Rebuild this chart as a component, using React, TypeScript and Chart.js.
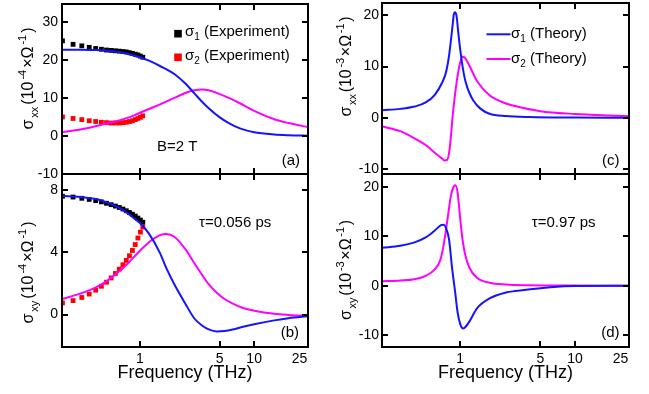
import React, { useEffect, useRef } from "react";
import { Chart, registerables } from "chart.js";

Chart.register(...registerables);

const FONT = '"Liberation Sans", Arial, Helvetica, sans-serif';
const BLUE = "#1414ff";
const MAGENTA = "#ff00ff";
const RED = "#ff0000";
const BLACK = "#000000";

// ---------- shared axis data ----------
const X_MIN = 0.208;
const X_MAX = 29.6;
const xTickLabels = [1, 5, 10, 25];
const xTickMarks = [1, 5, 10];

// ---------- experiment (panels a, b) ----------
const expFreq = [0.21, 0.26, 0.31, 0.36, 0.41, 0.46, 0.51, 0.56, 0.61, 0.66, 0.71, 0.76, 0.81, 0.86, 0.91, 0.96, 1.01, 1.06];
const aExpSigma1 = [25.0, 24.1, 23.7, 23.3, 23.0, 22.8, 22.6, 22.5, 22.4, 22.3, 22.2, 22.1, 21.9, 21.7, 21.5, 21.3, 21.0, 20.7];
const aExpSigma2 = [5.0, 4.6, 4.3, 4.0, 3.8, 3.6, 3.5, 3.4, 3.4, 3.4, 3.5, 3.6, 3.8, 4.0, 4.3, 4.6, 4.9, 5.3];
const bExpSigma1 = [7.6, 7.55, 7.47, 7.4, 7.32, 7.24, 7.15, 7.06, 6.97, 6.88, 6.78, 6.67, 6.56, 6.45, 6.33, 6.2, 6.07, 5.93];
const bExpSigma2 = [0.75, 0.9, 1.1, 1.32, 1.57, 1.82, 2.08, 2.36, 2.64, 2.92, 3.2, 3.48, 3.78, 4.12, 4.5, 4.92, 5.3, 5.62];

// ---------- Drude fit (panel a) ----------
const aThFreq = [0.21, 0.3, 0.4, 0.5, 0.6, 0.7, 0.8, 0.9, 1.0, 1.2, 1.5, 2.0, 2.5, 3.0, 3.5, 4.0, 5.0, 6.0, 7.5, 10, 15, 20, 30];
const aThSigma1 = [22.7, 22.7, 22.6, 22.45, 22.2, 21.9, 21.5, 21.1, 20.7, 19.8, 18.4, 16.3, 13.8, 11.2, 9.0, 7.3, 4.9, 3.4, 2.0, 1.0, 0.4, 0.2, 0.05];
const aThSigma2 = [1.0, 1.7, 2.5, 3.2, 3.8, 4.3, 4.9, 5.5, 6.1, 7.1, 8.3, 10.0, 11.3, 12.0, 12.2, 12.0, 11.0, 10.0, 8.6, 6.6, 4.4, 3.4, 2.3];

// ---------- Drude fit (panel b) ----------
const bThFreq = [0.21, 0.3, 0.4, 0.5, 0.6, 0.7, 0.8, 0.9, 1.0, 1.2, 1.5, 1.7, 2.0, 2.5, 3.0, 3.5, 4.0, 4.7, 5.5, 6.5, 8, 10, 15, 20, 30];
const bThSigma1 = [7.62, 7.56, 7.44, 7.24, 7.0, 6.74, 6.45, 6.15, 5.88, 5.2, 3.95, 3.0, 1.95, 0.7, -0.25, -0.7, -0.95, -1.08, -1.05, -0.95, -0.78, -0.62, -0.37, -0.23, -0.1];
const bThSigma2 = [1.0, 1.35, 1.7, 2.1, 2.55, 2.95, 3.35, 3.75, 4.1, 4.65, 5.1, 5.18, 5.0, 4.2, 3.3, 2.55, 1.95, 1.4, 1.0, 0.7, 0.42, 0.25, 0.05, -0.02, -0.08];

// ---------- theory (panel c) ----------
const cFreq1 = [0.21, 0.3, 0.4, 0.5, 0.6, 0.7, 0.75, 0.8, 0.85, 0.88, 0.9, 0.93, 0.96, 1.0, 1.05, 1.1, 1.15, 1.2, 1.3, 1.5, 1.8, 2.5, 4, 10, 30];
const cSigma1 = [1.5, 1.75, 2.2, 3.0, 4.5, 7.0, 8.8, 12.2, 17.2, 20.2, 20.6, 19.8, 16.8, 13.3, 9.9, 7.5, 6.0, 4.9, 3.4, 1.8, 0.8, 0.35, 0.15, 0.05, 0.02];
const cFreq2 = [0.21, 0.3, 0.4, 0.5, 0.6, 0.7, 0.73, 0.77, 0.8, 0.83, 0.86, 0.9, 0.95, 1.0, 1.05, 1.1, 1.2, 1.4, 1.8, 2.5, 3, 5, 10, 20, 30];
const cSigma2 = [-1.7, -2.6, -4.0, -5.3, -6.8, -8.0, -8.3, -8.2, -6.8, -3.5, 0.5, 4.5, 8.3, 10.8, 11.9, 11.7, 10.2, 7.2, 4.4, 2.8, 2.3, 1.3, 0.75, 0.45, 0.32];

// ---------- theory (panel d) ----------
const dFreq1 = [0.21, 0.3, 0.4, 0.5, 0.6, 0.68, 0.72, 0.75, 0.8, 0.85, 0.9, 0.95, 1.0, 1.06, 1.12, 1.2, 1.4, 1.8, 2.5, 3, 5, 7, 10, 30];
const dSigma1 = [7.7, 8.1, 8.8, 9.8, 11.2, 12.3, 12.4, 11.8, 9.3, 3.5, -1.0, -5.5, -7.8, -8.7, -8.3, -7.3, -4.6, -2.6, -1.4, -1.1, -0.5, -0.2, -0.08, 0];
const dFreq2 = [0.21, 0.3, 0.4, 0.5, 0.6, 0.67, 0.72, 0.78, 0.83, 0.88, 0.91, 0.95, 1.0, 1.05, 1.1, 1.2, 1.4, 1.8, 2.5, 4, 10, 30];
const dSigma2 = [0.9, 1.05, 1.3, 2.0, 3.3, 5.2, 8.5, 14.0, 18.3, 20.2, 20.4, 18.8, 13.6, 9.2, 6.5, 3.7, 1.6, 0.6, 0.25, 0.1, 0.03, 0];

// ---------- y ticks ----------
const aYTicks = [-10, 0, 10, 20, 30];
const bYTicks = [0, 4, 8];
const cYTicks = [-10, 0, 10, 20];
const dYTicks = [-10, 0, 10, 20];

type Run = { t: string; s?: "sub" | "sup" };

const pts = (xs: number[], ys: number[]) => xs.map((x, i) => ({ x, y: ys[i] }));

const lineDs = (xs: number[], ys: number[], color: string) => ({
  data: pts(xs, ys),
  showLine: true,
  borderColor: color,
  backgroundColor: color,
  borderWidth: 2,
  pointRadius: 0,
  cubicInterpolationMode: "monotone",
  fill: false,
});

const squareDs = (xs: number[], ys: number[], color: string) => ({
  data: pts(xs, ys),
  showLine: false,
  pointStyle: "rect",
  pointRadius: 3.4,
  pointBorderWidth: 0,
  pointBackgroundColor: color,
  pointBorderColor: color,
  backgroundColor: color,
  borderColor: color,
});

function drawRuns(ctx: CanvasRenderingContext2D, runs: Run[], x: number, y: number, main: number, small: number, subOff: number, supOff: number, gap = 0) {
  let cx = x;
  runs.forEach((r, i) => {
    const sz = r.s ? small : main;
    ctx.font = `${sz}px ${FONT}`;
    const dy = r.s === "sub" ? subOff : r.s === "sup" ? -supOff : 0;
    ctx.fillText(r.t, cx, y + dy);
    cx += ctx.measureText(r.t).width + (i < runs.length - 1 ? gap : 0);
  });
}

function runsWidth(ctx: CanvasRenderingContext2D, runs: Run[], main: number, small: number) {
  let w = 0;
  runs.forEach((r) => {
    ctx.font = `${r.s ? small : main}px ${FONT}`;
    w += ctx.measureText(r.t).width;
  });
  return w;
}

type Panel = {
  area: { left: number; top: number; right: number; bottom: number };
  yMin: number;
  yMax: number;
  yTicks: number[];
  showX: boolean;
  datasets: any[];
  title: { runs: Run[]; baseX: number; cy: number; len: number };
  legend: { kind: "square" | "line"; color: string; mx: number; my: number; tx: number; ty: number; runs: Run[] }[];
  notes: { text: string; x: number; y: number; align: CanvasTextAlign }[];
};

function makeDeco(p: Panel) {
  return {
    id: "deco",
    afterDraw(chart: any) {
      const ctx: CanvasRenderingContext2D = chart.ctx;
      const ca = chart.chartArea;
      const xs = chart.scales.x;
      const ys = chart.scales.y;
      ctx.save();
      ctx.strokeStyle = BLACK;
      ctx.fillStyle = BLACK;
      // inside tick marks on all four sides
      ctx.lineWidth = 2;
      ctx.beginPath();
      const tl = 6;
      xTickMarks.forEach((v) => {
        const px = Math.round(xs.getPixelForValue(v));
        ctx.moveTo(px, ca.top);
        ctx.lineTo(px, ca.top + tl);
        ctx.moveTo(px, ca.bottom);
        ctx.lineTo(px, ca.bottom - tl);
      });
      p.yTicks.forEach((v) => {
        const py = Math.round(ys.getPixelForValue(v));
        ctx.moveTo(ca.left, py);
        ctx.lineTo(ca.left + tl, py);
        ctx.moveTo(ca.right, py);
        ctx.lineTo(ca.right - tl, py);
      });
      ctx.stroke();
      // frame
      ctx.lineWidth = 2;
      ctx.strokeRect(ca.left, ca.top, ca.right - ca.left, ca.bottom - ca.top);

      // rotated y-axis title
      const t = p.title;
      const main = 16;
      const small = 11;
      const w = runsWidth(ctx, t.runs, main, small);
      const gap = Math.max(0, Math.min(3, (t.len - w) / (t.runs.length - 1)));
      const total = w + gap * (t.runs.length - 1);
      ctx.save();
      ctx.translate(t.baseX, t.cy);
      ctx.rotate(-Math.PI / 2);
      ctx.textBaseline = "alphabetic";
      ctx.textAlign = "left";
      drawRuns(ctx, t.runs, -total / 2, 0, main, small, 4.5, 7, gap);
      ctx.restore();

      // legend
      ctx.textBaseline = "alphabetic";
      ctx.textAlign = "left";
      p.legend.forEach((l) => {
        if (l.kind === "square") {
          ctx.fillStyle = l.color;
          ctx.fillRect(l.mx - 3.8, l.my - 3.8, 7.6, 7.6);
        } else {
          ctx.strokeStyle = l.color;
          ctx.lineWidth = 2;
          ctx.beginPath();
          ctx.moveTo(l.mx - 12, l.my);
          ctx.lineTo(l.mx + 12, l.my);
          ctx.stroke();
        }
        ctx.fillStyle = BLACK;
        drawRuns(ctx, l.runs, l.tx, l.ty, 15, 10, 4, 6);
      });

      // annotations
      ctx.fillStyle = BLACK;
      ctx.font = `15px ${FONT}`;
      p.notes.forEach((n) => {
        ctx.textAlign = n.align;
        ctx.fillText(n.text, n.x, n.y);
      });
      ctx.restore();
    },
  };
}

const titleRuns = (sub: string, exp: string): Run[] => [
  { t: "σ" },
  { t: sub, s: "sub" },
  { t: "(10" },
  { t: exp, s: "sup" },
  { t: "×Ω" },
  { t: "-1", s: "sup" },
  { t: ")" },
];

const panels: Panel[] = [
  {
    area: { left: 62, top: 3, right: 308, bottom: 174 },
    yMin: -10,
    yMax: 34.7,
    yTicks: aYTicks,
    showX: false,
    datasets: [
      lineDs(aThFreq, aThSigma1, BLUE),
      lineDs(aThFreq, aThSigma2, MAGENTA),
      squareDs(expFreq, aExpSigma1, BLACK),
      squareDs(expFreq, aExpSigma2, RED),
    ],
    title: { runs: titleRuns("xx", "-4"), baseX: 33, cy: 78.5, len: 102 },
    legend: [
      { kind: "square", color: BLACK, mx: 178, my: 33.7, tx: 185, ty: 36, runs: [{ t: "σ" }, { t: "1", s: "sub" }, { t: " (Experiment)" }] },
      { kind: "square", color: RED, mx: 178, my: 57.3, tx: 185, ty: 60, runs: [{ t: "σ" }, { t: "2", s: "sub" }, { t: " (Experiment)" }] },
    ],
    notes: [
      { text: "B=2 T", x: 157, y: 150.5, align: "left" },
      { text: "(a)", x: 300, y: 165, align: "right" },
    ],
  },
  {
    area: { left: 62, top: 174, right: 308, bottom: 347 },
    yMin: -2.08,
    yMax: 9.03,
    yTicks: bYTicks,
    showX: true,
    datasets: [
      lineDs(bThFreq, bThSigma1, BLUE),
      lineDs(bThFreq, bThSigma2, MAGENTA),
      squareDs(expFreq, bExpSigma1, BLACK),
      squareDs(expFreq, bExpSigma2, RED),
    ],
    title: { runs: titleRuns("xy", "-4"), baseX: 33, cy: 272.5, len: 102 },
    legend: [],
    notes: [
      { text: "τ=0.056 ps", x: 199, y: 227, align: "left" },
      { text: "(b)", x: 299, y: 337, align: "right" },
    ],
  },
  {
    area: { left: 382, top: 3, right: 629, bottom: 174 },
    yMin: -10.95,
    yMax: 22.4,
    yTicks: cYTicks,
    showX: false,
    datasets: [lineDs(cFreq1, cSigma1, BLUE), lineDs(cFreq2, cSigma2, MAGENTA)],
    title: { runs: titleRuns("xx", "-3"), baseX: 351, cy: 66.5, len: 100 },
    legend: [
      { kind: "line", color: BLUE, mx: 498.5, my: 34.3, tx: 511, ty: 38, runs: [{ t: "σ" }, { t: "1", s: "sub" }, { t: " (Theory)" }] },
      { kind: "line", color: MAGENTA, mx: 498.5, my: 59, tx: 511, ty: 62.5, runs: [{ t: "σ" }, { t: "2", s: "sub" }, { t: " (Theory)" }] },
    ],
    notes: [{ text: "(c)", x: 619.5, y: 165, align: "right" }],
  },
  {
    area: { left: 382, top: 174, right: 629, bottom: 347 },
    yMin: -12.46,
    yMax: 22.7,
    yTicks: dYTicks,
    showX: true,
    datasets: [lineDs(dFreq1, dSigma1, BLUE), lineDs(dFreq2, dSigma2, MAGENTA)],
    title: { runs: titleRuns("xy", "-3"), baseX: 351, cy: 270, len: 100 },
    legend: [],
    notes: [
      { text: "τ=0.97 ps", x: 531.7, y: 227, align: "left" },
      { text: "(d)", x: 619.5, y: 337, align: "right" },
    ],
  },
];

const W = 649;
const H = 394;
const Y_AXIS_W = 40;
const X_AXIS_H = 37;

function makeConfig(p: Panel): any {
  const a = p.area;
  return {
    type: "scatter",
    data: { datasets: p.datasets },
    plugins: [makeDeco(p)],
    options: {
      responsive: false,
      maintainAspectRatio: false,
      animation: false,
      devicePixelRatio: 1,
      events: [],
      layout: {
        padding: {
          left: a.left - Y_AXIS_W,
          top: a.top,
          right: W - a.right,
          bottom: p.showX ? H - a.bottom - X_AXIS_H : H - a.bottom,
        },
      },
      plugins: { legend: { display: false }, tooltip: { enabled: false } },
      scales: {
        x: {
          type: "logarithmic",
          min: X_MIN,
          max: X_MAX,
          bounds: "data",
          display: p.showX,
          grid: { display: false, drawTicks: false },
          border: { display: false },
          afterBuildTicks: (s: any) => {
            s.ticks = xTickLabels.map((v) => ({ value: v }));
          },
          afterFit: (s: any) => {
            if (p.showX) s.height = X_AXIS_H;
            s.paddingLeft = 0;
            s.paddingRight = 0;
          },
          ticks: {
            autoSkip: false,
            maxRotation: 0,
            minRotation: 0,
            padding: 4,
            color: BLACK,
            font: { size: 14, family: FONT },
            callback: (v: any) => String(v),
          },
          title: {
            display: true,
            text: "Frequency (THz)",
            color: BLACK,
            font: { size: 18, family: FONT },
            padding: 0,
          },
        },
        y: {
          type: "linear",
          min: p.yMin,
          max: p.yMax,
          bounds: "data",
          grid: { display: false, drawTicks: false },
          border: { display: false },
          afterBuildTicks: (s: any) => {
            s.ticks = p.yTicks.map((v) => ({ value: v }));
          },
          afterFit: (s: any) => {
            s.width = Y_AXIS_W;
            s.paddingTop = 0;
            s.paddingBottom = 0;
          },
          ticks: {
            padding: p.area.left > 300 ? 3 : 4,
            color: BLACK,
            font: { size: 14, family: FONT },
            callback: (v: any) => String(v),
          },
        },
      },
    },
  };
}

export default function App() {
  const refs = useRef<(HTMLCanvasElement | null)[]>([]);
  useEffect(() => {
    const charts = panels.map((p, i) => new Chart(refs.current[i] as HTMLCanvasElement, makeConfig(p)));
    return () => charts.forEach((c) => c.destroy());
  }, []);
  return (
    <div style={{ position: "absolute", left: 0, top: 0, width: W, height: H, background: "#fff", overflow: "hidden" }}>
      {panels.map((_, i) => (
        <canvas
          key={i}
          ref={(el) => {
            refs.current[i] = el;
          }}
          width={W}
          height={H}
          style={{ position: "absolute", left: 0, top: 0 }}
        />
      ))}
    </div>
  );
}
